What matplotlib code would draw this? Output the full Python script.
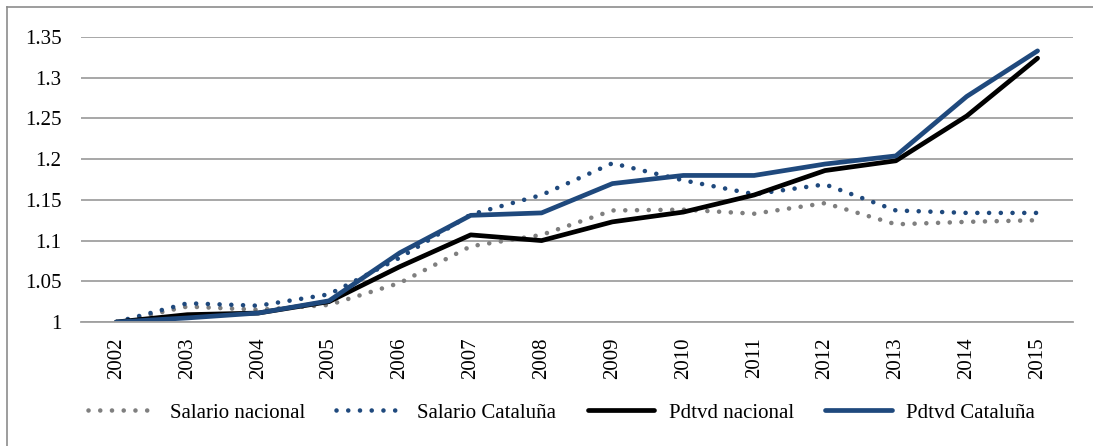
import matplotlib.pyplot as plt
from matplotlib.lines import Line2D

plt.rcParams['font.family'] = ['Liberation Serif', 'DejaVu Serif']

anios = ['2002', '2003', '2004', '2005', '2006', '2007', '2008',
         '2009', '2010', '2011', '2012', '2013', '2014', '2015']

salario_nacional = [1.0, 1.019, 1.015, 1.021, 1.048, 1.093, 1.107,
                    1.137, 1.138, 1.133, 1.146, 1.120, 1.123, 1.125]
salario_cataluna = [1.0, 1.023, 1.020, 1.034, 1.079, 1.132, 1.156,
                    1.195, 1.174, 1.157, 1.169, 1.137, 1.134, 1.134]
pdtvd_nacional = [1.0, 1.009, 1.011, 1.025, 1.068, 1.107, 1.100,
                  1.123, 1.135, 1.156, 1.186, 1.198, 1.253, 1.324]
pdtvd_cataluna = [1.0, 1.005, 1.011, 1.026, 1.085, 1.131, 1.134,
                  1.170, 1.180, 1.180, 1.194, 1.204, 1.277, 1.333]

gris = '#7F7F7F'
azul = '#1F497D'
punteado = (0, (0.01, 2.55))

fig = plt.figure(figsize=(10.93, 4.46), dpi=100)
ax = fig.add_axes([0.0741, 0.278, 0.9076, 0.639])

x = range(len(anios))
ax.plot(x, salario_nacional, color=gris, lw=3.3, linestyle=punteado,
        dash_capstyle='round', label='Salario nacional')
ax.plot(x, salario_cataluna, color=azul, lw=3.3, linestyle=punteado,
        dash_capstyle='round', label='Salario Cataluña')
ax.plot(x, pdtvd_nacional, color='black', lw=3.4, solid_capstyle='round',
        label='Pdtvd nacional')
ax.plot(x, pdtvd_cataluna, color=azul, lw=3.4, solid_capstyle='round',
        label='Pdtvd Cataluña')

ax.set_xlim(-0.5, len(anios) - 0.5)
ax.set_ylim(1, 1.35)
ax.set_yticks([1, 1.05, 1.1, 1.15, 1.2, 1.25, 1.3, 1.35])
ax.set_yticklabels(['1', '1.05', '1.1', '1.15', '1.2', '1.25', '1.3', '1.35'])
ax.set_xticks(list(x))
ax.set_xticklabels(anios, rotation=90)
ax.tick_params(axis='y', length=0, pad=14, labelsize=15)
ax.tick_params(axis='x', length=0, pad=11, labelsize=15)

ax.grid(axis='y', color='#A0A0A0', lw=1.3)
ax.set_axisbelow(True)
for s in ['top', 'right', 'left']:
    ax.spines[s].set_visible(False)
ax.spines['bottom'].set_color('#A0A0A0')
ax.spines['bottom'].set_linewidth(1.3)

fig.legend(loc='center', bbox_to_anchor=(0.514, 0.074), ncol=4, frameon=False,
           fontsize=15, handlelength=3.2, handletextpad=0.7, columnspacing=1.5)

# marco del grafico
fig.add_artist(Line2D([0.0064, 0.0064], [0, 0.9843], transform=fig.transFigure,
                      color='#8C8C8C', lw=1.2))
fig.add_artist(Line2D([0.0064, 1], [0.9843, 0.9843], transform=fig.transFigure,
                      color='#8C8C8C', lw=1.2))

fig.savefig('out.png', dpi=100)
